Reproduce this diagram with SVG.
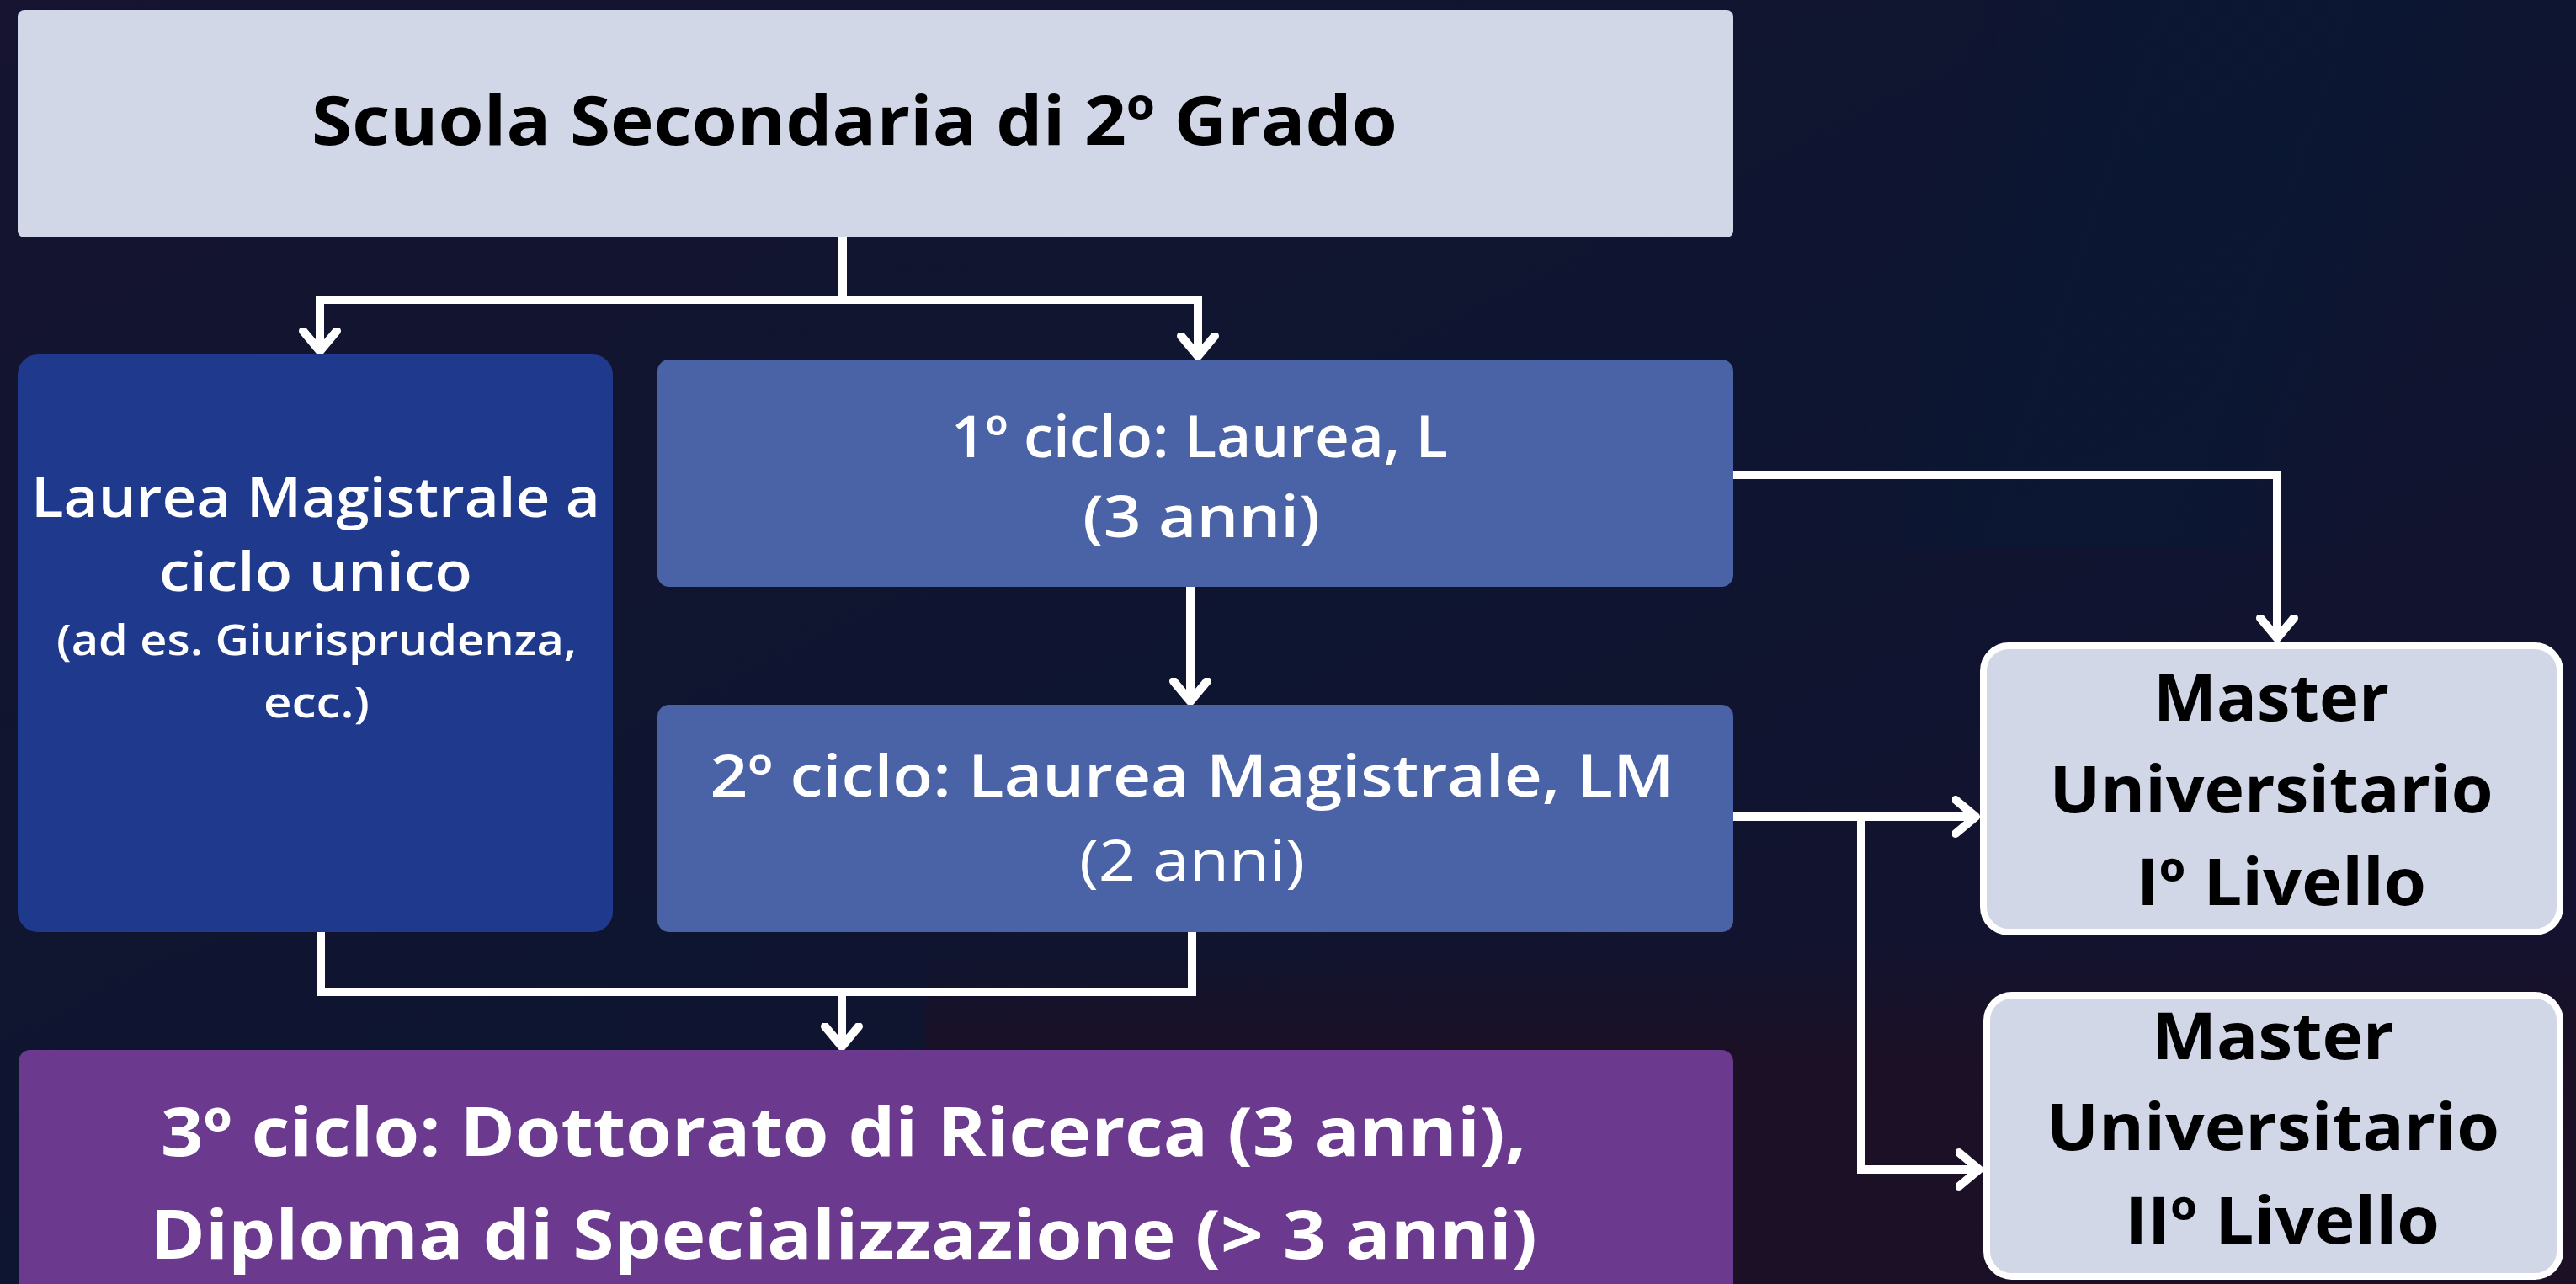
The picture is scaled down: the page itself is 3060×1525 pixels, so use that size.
<svg xmlns="http://www.w3.org/2000/svg" width="3060" height="1525" viewBox="0 0 3060 1525">
  <defs>
    <style>
      .t { font-family: "Open Sans", "Noto Sans", "DejaVu Sans", sans-serif; text-anchor: middle; }
      .dark { fill: #000000; }
      .light { fill: #ffffff; }
      .conn { fill: none; stroke: #ffffff; stroke-width: 10; stroke-linejoin: miter; }
      .box-light { fill: #d2d7e8; }
      .master { fill: #d2d7e8; stroke: #ffffff; stroke-width: 8; }
    </style>
    <marker id="arr" markerUnits="userSpaceOnUse" markerWidth="60" markerHeight="60" viewBox="-30 -30 60 60" refX="0" refY="0" orient="auto">
      <path d="M-26,-20 L-2,0 L-26,20" fill="none" stroke="#ffffff" stroke-width="10" stroke-linecap="round" stroke-linejoin="round"/>
    </marker>
    <linearGradient id="bg" x1="0" y1="0" x2="1" y2="1">
      <stop offset="0" stop-color="#161430"/>
      <stop offset="0.5" stop-color="#0e1530"/>
      <stop offset="1" stop-color="#17112e"/>
    </linearGradient>
    <linearGradient id="band" gradientUnits="userSpaceOnUse" x1="2250" y1="300" x2="2850" y2="500">
      <stop offset="0" stop-color="#0a1733" stop-opacity="0"/>
      <stop offset="0.35" stop-color="#0a1733" stop-opacity="0.9"/>
      <stop offset="0.65" stop-color="#0a1733" stop-opacity="0.9"/>
      <stop offset="1" stop-color="#0a1733" stop-opacity="0"/>
    </linearGradient>
    <linearGradient id="bottom" gradientUnits="userSpaceOnUse" x1="0" y1="1120" x2="0" y2="1260">
      <stop offset="0" stop-color="#1c1024" stop-opacity="0"/>
      <stop offset="1" stop-color="#1c1024" stop-opacity="0.9"/>
    </linearGradient>
  </defs>

  <!-- background -->
  <rect x="0" y="0" width="3060" height="1525" fill="url(#bg)"/>
  <rect x="2100" y="0" width="960" height="650" fill="url(#band)"/>
  <rect x="1100" y="1120" width="1960" height="405" fill="url(#bottom)"/>

  <!-- connectors -->
  <g id="connectors">
    <path class="conn" d="M1001,282 V356"/>
    <path class="conn" d="M1001,356 H380 V419" marker-end="url(#arr)"/>
    <path class="conn" d="M1001,356 H1423 V425" marker-end="url(#arr)"/>
    <path class="conn" d="M1414,697 V835" marker-end="url(#arr)"/>
    <path class="conn" d="M381,1107 V1178 H1416 V1107"/>
    <path class="conn" d="M1000,1178 V1245" marker-end="url(#arr)"/>
    <path class="conn" d="M2059,564 H2705 V760" marker-end="url(#arr)"/>
    <path class="conn" d="M2059,970 H2349" marker-end="url(#arr)"/>
    <path class="conn" d="M2211,970 V1389 H2353" marker-end="url(#arr)"/>
  </g>

  <!-- nodes -->
  <g id="node-secondaria">
    <rect class="box-light" x="21" y="12" width="2038" height="270" rx="8"/>
    <text class="t dark" x="1015" y="172" font-size="81" font-weight="700" textLength="1290" lengthAdjust="spacingAndGlyphs">Scuola Secondaria di 2º Grado</text>
  </g>

  <g id="node-ciclo-unico">
    <rect x="21" y="421" width="707" height="686" rx="24" fill="#1f3a8d"/>
    <text class="t light" x="375" y="614" font-size="65" font-weight="600" textLength="676" lengthAdjust="spacingAndGlyphs">Laurea Magistrale a</text>
    <text class="t light" x="375" y="702" font-size="65" font-weight="600" textLength="372" lengthAdjust="spacingAndGlyphs">ciclo unico</text>
    <text class="t light" x="376" y="778" font-size="50" font-weight="600" textLength="618" lengthAdjust="spacingAndGlyphs">(ad es. Giurisprudenza,</text>
    <text class="t light" x="376" y="852" font-size="50" font-weight="600" textLength="126" lengthAdjust="spacingAndGlyphs">ecc.)</text>
  </g>

  <g id="node-primo-ciclo">
    <rect x="781" y="427" width="1278" height="270" rx="14" fill="#4a62a6"/>
    <text class="t light" x="1425" y="543" font-size="68" font-weight="600" textLength="590" lengthAdjust="spacingAndGlyphs">1º ciclo: Laurea, L</text>
    <text class="t light" x="1427" y="638" font-size="68" font-weight="600" textLength="282" lengthAdjust="spacingAndGlyphs">(3 anni)</text>
  </g>

  <g id="node-secondo-ciclo">
    <rect x="781" y="837" width="1278" height="270" rx="14" fill="#4a62a6"/>
    <text class="t light" x="1416" y="946" font-size="68" font-weight="600" textLength="1145" lengthAdjust="spacingAndGlyphs">2º ciclo: Laurea Magistrale, LM</text>
    <text class="t light" x="1416" y="1046" font-size="68" font-weight="400" textLength="268" lengthAdjust="spacingAndGlyphs">(2 anni)</text>
  </g>

  <g id="node-terzo-ciclo">
    <rect x="22" y="1247" width="2037" height="300" rx="14" fill="#6b3a8e"/>
    <text class="t light" x="1002" y="1373" font-size="80" font-weight="700" textLength="1622" lengthAdjust="spacingAndGlyphs">3º ciclo: Dottorato di Ricerca (3 anni),</text>
    <text class="t light" x="1002" y="1495" font-size="80" font-weight="700" textLength="1648" lengthAdjust="spacingAndGlyphs">Diploma di Specializzazione (&gt; 3 anni)</text>
  </g>

  <g id="node-master-1">
    <rect class="master" x="2356" y="767" width="685" height="340" rx="30"/>
    <text class="t dark" x="2698" y="856" font-size="77" font-weight="700" textLength="280" lengthAdjust="spacingAndGlyphs">Master</text>
    <text class="t dark" x="2698" y="965" font-size="77" font-weight="700" textLength="527" lengthAdjust="spacingAndGlyphs">Universitario</text>
    <text class="t dark" x="2710" y="1075" font-size="77" font-weight="700" textLength="344" lengthAdjust="spacingAndGlyphs">Iº Livello</text>
  </g>

  <g id="node-master-2">
    <rect class="master" x="2360" y="1182" width="681" height="334" rx="30"/>
    <text class="t dark" x="2700" y="1258" font-size="77" font-weight="700" textLength="288" lengthAdjust="spacingAndGlyphs">Master</text>
    <text class="t dark" x="2700" y="1366" font-size="77" font-weight="700" textLength="538" lengthAdjust="spacingAndGlyphs">Universitario</text>
    <text class="t dark" x="2711" y="1477" font-size="77" font-weight="700" textLength="374" lengthAdjust="spacingAndGlyphs">IIº Livello</text>
  </g>
</svg>
